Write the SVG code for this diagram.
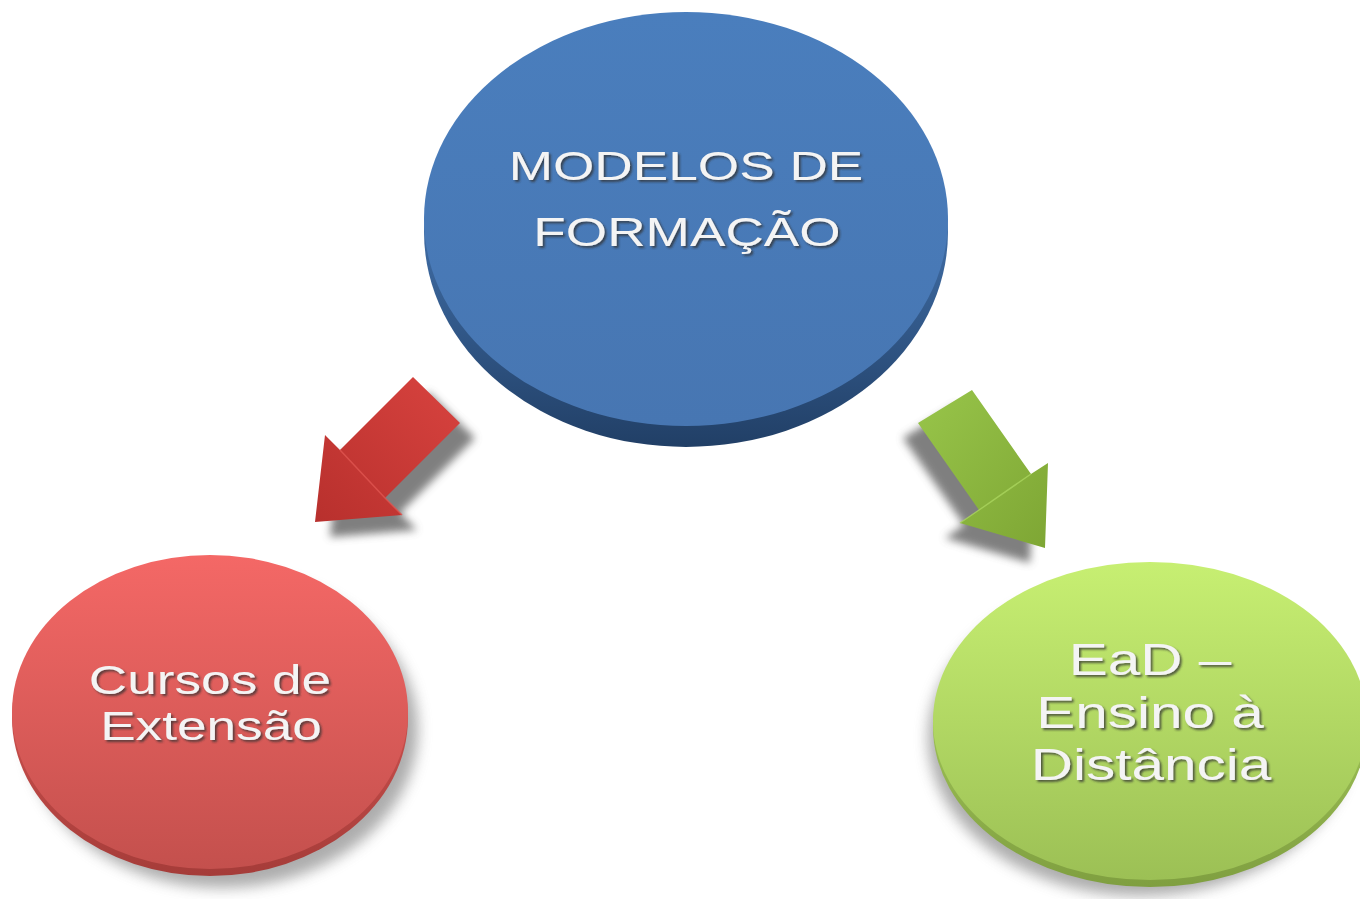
<svg xmlns="http://www.w3.org/2000/svg" width="1360" height="899" viewBox="0 0 1360 899">
<defs>
<style>
.lbl{font-family:"Liberation Sans",Arial,sans-serif;font-size:40px;fill:#f4f4f4;text-anchor:middle;filter:url(#tsh)}
.big{font-size:44px}
</style>
<filter id="tsh" x="-10%" y="-20%" width="120%" height="150%">
<feDropShadow dx="1.5" dy="2" stdDeviation="0.8" flood-color="#333" flood-opacity="0.75"/>
</filter>
<filter id="blur8" x="-30%" y="-30%" width="160%" height="160%"><feGaussianBlur stdDeviation="7"/></filter>
<filter id="blur5" x="-30%" y="-30%" width="160%" height="160%"><feGaussianBlur stdDeviation="4"/></filter>
<linearGradient id="gBlue" x1="0" y1="0" x2="0" y2="1"><stop offset="0" stop-color="#4a7ebd"/><stop offset="1" stop-color="#4776b2"/></linearGradient>
<linearGradient id="gBlueRim" x1="0" y1="0" x2="0" y2="1"><stop offset="0.5" stop-color="#3f6ca4"/><stop offset="1" stop-color="#213f66"/></linearGradient>
<linearGradient id="gRed" x1="0" y1="0" x2="0" y2="1"><stop offset="0" stop-color="#f46866"/><stop offset="1" stop-color="#c4504d"/></linearGradient>
<linearGradient id="gRedRim" x1="0" y1="0" x2="0" y2="1"><stop offset="0.5" stop-color="#c94f4c"/><stop offset="1" stop-color="#a53c39"/></linearGradient>
<linearGradient id="gGreen" x1="0" y1="0" x2="0" y2="1"><stop offset="0" stop-color="#c7ef72"/><stop offset="1" stop-color="#9cc055"/></linearGradient>
<linearGradient id="gGreenRim" x1="0" y1="0" x2="0" y2="1"><stop offset="0.5" stop-color="#9cbf55"/><stop offset="1" stop-color="#7f9f40"/></linearGradient>
<linearGradient id="gRA" x1="1" y1="0" x2="0" y2="1"><stop offset="0" stop-color="#d8433f"/><stop offset="1" stop-color="#b8302d"/></linearGradient>
<linearGradient id="gGA" x1="0" y1="0" x2="1" y2="1"><stop offset="0" stop-color="#98c54a"/><stop offset="1" stop-color="#7ea634"/></linearGradient>
</defs>

<g id="node-modelos">
<ellipse cx="686" cy="232" rx="262" ry="215" fill="url(#gBlueRim)"/>
<ellipse cx="686" cy="219" rx="262" ry="207" fill="url(#gBlue)"/>
<text class="lbl" transform="translate(686,180) scale(1.33,1)">MODELOS DE</text>
<text class="lbl" transform="translate(687,246) scale(1.33,1)">FORMAÇÃO</text>
</g>

<g id="node-cursos">
<ellipse cx="222" cy="730" rx="196" ry="158" fill="#777" opacity="0.6" filter="url(#blur8)"/>
<ellipse cx="210" cy="718" rx="198" ry="158" fill="url(#gRedRim)"/>
<ellipse cx="210" cy="712" rx="198" ry="157" fill="url(#gRed)"/>
<text class="lbl" transform="translate(210,694) scale(1.33,1)">Cursos de</text>
<text class="lbl" transform="translate(211,740) scale(1.33,1)">Extensão</text>
</g>

<g id="node-ead">
<ellipse cx="1140" cy="738" rx="212" ry="158" fill="#777" opacity="0.6" filter="url(#blur8)"/>
<ellipse cx="1150" cy="727" rx="217" ry="160" fill="url(#gGreenRim)"/>
<ellipse cx="1150" cy="721" rx="217" ry="159" fill="url(#gGreen)"/>
<text class="lbl big" transform="translate(1150,675) scale(1.33,1)">EaD –</text>
<text class="lbl big" transform="translate(1150,728) scale(1.33,1)">Ensino à</text>
<text class="lbl big" transform="translate(1151,780) scale(1.33,1)">Distância</text>
</g>

<g id="connectors">
<polygon points="428,392 475,438 400,513 417,530 330,537 340,450 355,465" fill="#555" opacity="0.75" filter="url(#blur5)"/>
<polygon points="413,377 460,423 385,498 402,515 315,522 325,435 340,450" fill="url(#gRA)"/>
<polyline points="340,450 385,498 402,515" fill="none" stroke="#e05550" stroke-width="1.5" opacity="0.8"/>
<polygon points="957,405 1016,489 1033,478 1030,563 945,538 964,525 903,438" fill="#555" opacity="0.75" filter="url(#blur5)"/>
<polygon points="972,390 1031,474 1048,463 1045,548 960,523 979,510 918,423" fill="url(#gGA)"/>
<polyline points="960,523 979,510 1031,474" fill="none" stroke="#aad45e" stroke-width="1.5" opacity="0.8"/>
</g>
</svg>
